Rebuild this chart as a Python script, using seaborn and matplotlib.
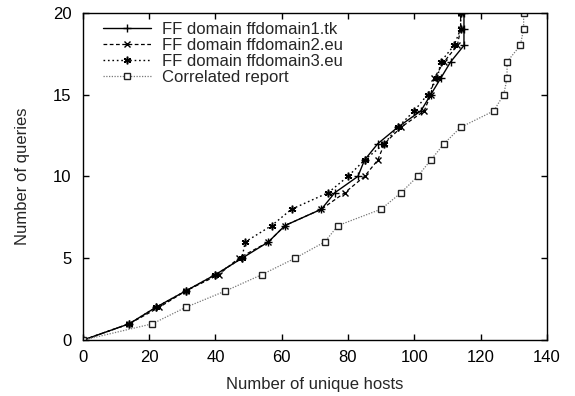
import matplotlib
matplotlib.use("Agg")
import matplotlib.pyplot as plt
import pandas as pd
import seaborn as sns


# number of queries (y) vs number of unique hosts seen (x)
queries = list(range(21))
hosts_ff1 = [0, 14, 22, 31, 40, 48, 56, 61, 72, 76, 83, 85, 89, 95, 102, 105, 108, 111, 115, 115, 115]
hosts_ff2 = [0, 14, 23, 31, 41, 47, 56, 61, 72, 79, 85, 89, 91, 96, 103, 105, 106, 109, 113, 114, 114]
hosts_ff3 = [0, 14, 22, 31, 40, 48, 49, 57, 63, 74, 80, 85, 91, 95, 100, 104, 107, 108, 112, 114, 114]
hosts_corr = [0, 21, 31, 43, 54, 64, 73, 77, 90, 96, 101, 105, 109, 114, 124, 127, 128, 128, 132, 133, 133]
labels = ["FF domain ffdomain1.tk", "FF domain ffdomain2.eu",
          "FF domain ffdomain3.eu", "Correlated report"]

sns.set_style("ticks")
plt.rcParams["font.family"] = ["Liberation Sans", "DejaVu Sans"]
plt.rcParams["font.size"] = 12

fig = plt.figure(figsize=(5.75, 3.96), dpi=100)
ax = fig.add_axes([0.144, 0.141, 0.807, 0.827])

styles = [
    dict(color="black", linestyle="-", marker="+", markersize=6, linewidth=1.0,
         markeredgecolor="black", markeredgewidth=1.0),
    dict(color="black", linestyle=(0, (3, 2)), marker="x", markersize=5, linewidth=0.9,
         markeredgecolor="black", markeredgewidth=1.0),
    dict(color="black", linestyle=(0, (1.2, 2)), marker=(6, 2, 0), markersize=5.5, linewidth=1.0,
         markeredgecolor="black", markeredgewidth=1.1),
    dict(color="#777777", linestyle=(0, (1, 1.2)), marker="s", markersize=5,
         markerfacecolor="white", markeredgecolor="#222222", markeredgewidth=1.0, linewidth=0.9),
]
series = [hosts_ff1, hosts_ff2, hosts_ff3, hosts_corr]

for xs, lab, st in zip(series, labels, styles):
    df = pd.DataFrame({"hosts": xs, "queries": queries})
    sns.lineplot(data=df, x="hosts", y="queries", ax=ax, label=lab,
                 estimator=None, sort=False, **st)

ax.set_xlim(0, 140)
ax.set_ylim(0, 20)
ax.set_xticks(range(0, 141, 20))
ax.set_yticks(range(0, 21, 5))
ax.tick_params(direction="in", top=True, right=True, length=4, width=1,
               labelsize=12, colors="black")
ax.tick_params(axis="y", pad=8)
ax.tick_params(axis="x", pad=7)
for sp in ax.spines.values():
    sp.set_visible(True)
    sp.set_linewidth(1.0)
    sp.set_color("black")

ax.set_xlabel("Number of unique hosts", fontsize=12)
ax.set_ylabel("Number of queries", fontsize=12)
ax.xaxis.set_label_coords(0.5, -0.112)
ax.yaxis.set_label_coords(-0.114, 0.5)

ax.legend(loc="upper left", bbox_to_anchor=(0.043, 0.973), frameon=False,
          borderpad=0, borderaxespad=0, handlelength=2.9, handletextpad=0.66,
          labelspacing=0.06, fontsize=12)

fig.savefig("out.png", dpi=100)
plt.close(fig)
